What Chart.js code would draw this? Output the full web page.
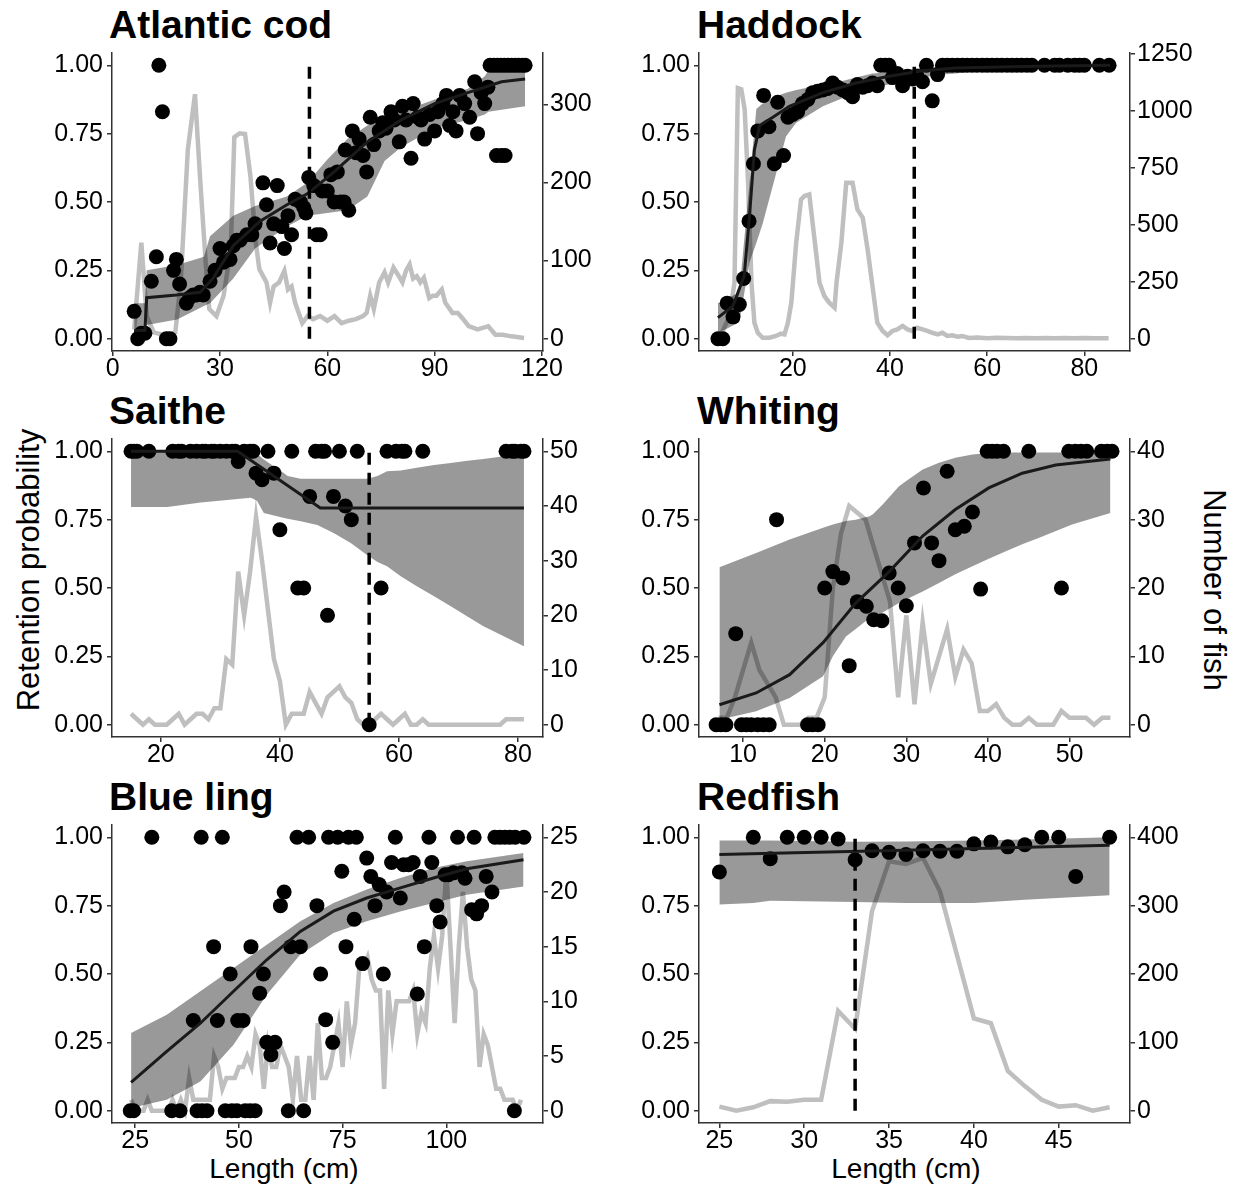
<!DOCTYPE html>
<html>
<head>
<meta charset="utf-8">
<script src="https://cdn.jsdelivr.net/npm/chart.js@4.4.1/dist/chart.umd.min.js"></script>
<style>
  body { margin: 0; background: #fff; width: 1241px; height: 1192px; position: relative; overflow: hidden;
         font-family: "Liberation Sans", Arial, sans-serif; }
  canvas { position: absolute; }
  .title { position: absolute; font-weight: bold; font-size: 39px; line-height: 1; color: #000; white-space: nowrap; }
  .axt { position: absolute; font-size: 28px; line-height: 1; color: #000; white-space: nowrap; }
  .axv { font-size: 31px; }
</style>
</head>
<body>
<div class="title" style="left:109px; top:5px">Atlantic cod</div>
<div class="title" style="left:697px; top:5px">Haddock</div>
<div class="title" style="left:109px; top:391px">Saithe</div>
<div class="title" style="left:697px; top:391px">Whiting</div>
<div class="title" style="left:109px; top:777px">Blue ling</div>
<div class="title" style="left:697px; top:777px">Redfish</div>

<div class="axt axv" style="left:28px; top:570px; transform:translate(-50%,-50%) rotate(-90deg)">Retention probability</div>
<div class="axt axv" style="left:1214px; top:590px; transform:translate(-50%,-50%) rotate(90deg)">Number of fish</div>
<div class="axt" style="left:284px; top:1155px; transform:translateX(-50%)">Length (cm)</div>
<div class="axt" style="left:906px; top:1155px; transform:translateX(-50%)">Length (cm)</div>

<canvas id="cod"></canvas>
<canvas id="had"></canvas>
<canvas id="sai"></canvas>
<canvas id="whi"></canvas>
<canvas id="bl"></canvas>
<canvas id="red"></canvas>

<script>
// ---------- Atlantic cod ----------
var codLen = [6,7,8,9,10.8,12.2,12.9,13.9,15,16,17,17.8,18.7,20.6,21.5,22.5,23.4,24.4,25.3,27.2,
  28.6,30,31,32.8,33.7,34.7,35.6,37.5,38.9,39.8,42,43,44,45,46,47.3,48,49,50,51,
  52.5,53.4,54,54.8,56.2,57,58,58.6,60,61,61.9,62.8,63.7,64.7,65,66,67,68,68.9,70,
  71,72,73,74.5,75.5,76.4,77.8,78.7,80.1,81,82,83.4,84,85.3,86.2,87.2,88.6,90,90.9,92.3,
  93.3,94.2,95.1,96,97,98.4,99.8,101.2,102,103,104,104.9,105.5,106.5,107.3,107.5,108.5,108.7,109.5,109.7,
  110.5,111.5,112.5,113.5,114.5,115.3];
var codRet = [0.10,0,0.02,0.02,0.21,0.30,1,0.83,0,0,0.25,0.29,0.20,0.13,0.15,0.16,0.16,0.17,0.16,0.21,
  0.25,0.33,0.28,0.29,0.34,0.36,0.36,0.38,0.38,0.42,0.57,0.49,0.35,0.42,0.56,0.41,0.33,0.45,0.38,0.51,
  0.50,0.48,0.46,0.59,0.56,0.38,0.38,0.54,0.54,0.60,0.50,0.61,0.50,0.50,0.69,0.47,0.76,0.68,0.73,0.67,
  0.61,0.81,0.71,0.76,0.79,0.77,0.83,0.80,0.72,0.85,0.80,0.66,0.86,0.81,0.80,0.73,0.82,0.76,0.83,0.86,
  0.89,0.78,0.83,0.76,0.89,0.86,0.81,0.94,0.75,0.90,0.86,0.92,1,1,0.67,1,1,0.67,1,0.67,
  1,1,1,1,1,1];
var codFitX = [6,9,9.5,17.8,24.4,28,33.7,41.2,48.7,54.4,61.9,71.2,80.6,90,99.3,108.7,115.3];
var codFit = [0.03,0.03,0.15,0.16,0.17,0.22,0.34,0.43,0.49,0.53,0.61,0.72,0.80,0.86,0.90,0.94,0.95];
var codBandX = [6,9,9.5,18,25.5,27.2,33.7,39.8,48.7,54.4,60,65.6,71.2,76,80.6,90,99.3,104,105,115.3];
var codBandHi = [0.13,0.13,0.25,0.27,0.30,0.375,0.45,0.485,0.52,0.57,0.655,0.73,0.78,0.81,0.83,0.875,0.914,0.96,0.98,0.985];
var codBandLo = [0.0,0.03,0.05,0.07,0.12,0.13,0.22,0.33,0.41,0.45,0.46,0.47,0.52,0.65,0.70,0.77,0.80,0.82,0.83,0.85];
var codCntX = [6,8,9.5,11.5,15,17.5,19,21,23,24.5,26,27,29,31,33,34,35.5,37,38.5,40,
  41,43,44,45,46.5,48,49,50,51,53,54.5,56,58,60,62,64,66,68,70,71,
  72,73,74.5,76,77,78.5,80,81,82,83,84,85,86,87,88.5,89.5,90.5,92,93,95,
  96.5,98,99.5,102,105,107,109,111.5,115];
var codCnt = [12,123,29,8,4,8,72,242,313,200,97,38,29,55,114,258,263,262,208,123,
  89,72,46,67,72,87,63,67,46,20,29,25,29,23,29,20,23,25,29,33,
  55,38,72,85,72,91,80,72,87,95,77,80,72,78,52,55,55,63,46,33,
  33,25,16,12,16,5,5,3,1];

// ---------- Haddock ----------
var hadLen = [4.6,5.6,6.5,7.7,9,9.9,11,11.9,12.8,14,15.1,16.2,16.9,18.1,19,20,21,22,23.1,24.1,
  25.1,26.2,27.2,28.2,29.2,30.3,31.3,32.3,33.3,34.4,35.4,36.4,37.4,38.1,39,39.8,40.5,41.5,42.6,43.6,
  44.6,45.6,46.7,47.5,48.7,49.8,
  50.8,51.8,52.8,53.9,54.9,55.9,56.9,57.9,59,60,61,62,63,64.1,65.1,66.1,67.1,68.2,69.2,
  71.8,73.9,74.9,76.6,78,79,80,83.1,85.1];
var hadRet = [0,0,0.13,0.08,0.125,0.22,0.43,0.64,0.76,0.89,0.775,0.64,0.865,0.67,0.81,0.82,0.83,0.86,0.875,0.90,
  0.905,0.91,0.915,0.935,0.92,0.91,0.90,0.885,0.93,0.92,0.925,0.935,0.925,1,1,1,0.955,0.97,0.925,0.96,
  0.95,0.96,0.94,1,0.87,0.966,
  1,1,1,1,1,1,1,1,1,1,1,1,1,1,1,1,1,1,1,
  1,1,1,1,1,1,1,1,1];
var hadFitX = [4.6,7.7,10,11.1,12.1,13.2,15.9,19.3,26.2,33,39.8,46.7,53.5,67,85.3];
var hadFit = [0.077,0.12,0.23,0.45,0.69,0.78,0.81,0.85,0.90,0.935,0.96,0.98,0.99,0.996,1.0];
var hadBandX = [4.6,9,11.1,12.5,13.8,16.5,18.6,20.7,26.2,29.6,33,36.4,39.8,43.3,46.7,50,53.5,60.4,67,85.3];
var hadBandHi = [0.13,0.17,0.57,0.84,0.86,0.887,0.90,0.91,0.93,0.94,0.955,0.97,0.975,0.985,0.99,0.994,0.996,0.999,1.0,1.0];
var hadBandLo = [0.02,0.06,0.28,0.35,0.42,0.60,0.74,0.79,0.85,0.875,0.90,0.92,0.93,0.945,0.955,0.965,0.97,0.985,0.99,0.996];
var hadCntX = [4.6,5.6,7,8,8.7,9.4,10.1,10.8,11.5,12.1,12.8,13.8,15.2,16.5,17.6,18.3,19,19.7,20.7,21.7,
  22.4,23.4,24.4,25.5,26.5,27.5,28.6,29,30,31,32.3,33.3,34.4,35.4,36.4,37.4,38.5,39.5,40.5,41.5,
  42.6,43.6,44.6,45.6,46.7,47.7,48.7,49.8,50.8,51.8,52.8,53.9,54.9,56.2,58,60,62,64,66,68,
  70,72,74,76,78,80,82,85];
var hadCnt = [0,34,100,246,1100,1095,1006,684,246,70,26,4,4,12,22,19,70,158,421,611,
  626,633,450,246,187,158,136,246,421,684,684,567,531,392,231,70,34,15,34,41,
  56,41,34,48,41,34,26,19,26,12,15,9,12,3,5,2,4,3,2,3,
  2,3,2,3,2,3,2,2];

// ---------- Saithe ----------
var saiLen = [15,15.5,16,18,22,23,23.5,25,26,27,27.5,28.5,29,30,31,32,32.5,33,34,35,
  35.5,36,37,38,39,40,42,43,44,45,46,47,47.5,48,49,50,51,52,53,55,
  57,58,59.5,60.5,61,64,78,79,79.5,80.5,81];
var saiRet = [1,1,1,1,1,1,1,1,1,1,1,1,1,1,1,1,1,0.963,1,1,
  1,0.92,0.896,1,0.92,0.713,1,0.5,0.5,0.835,1,1,1,0.4,0.835,1,0.80,0.75,1,0,
  0.5,1,1,1,1,1,1,1,1,1,1];
var saiFitX = [15,32.9,46.8,81];
var saiFit = [1,1,0.793,0.793];
var saiBandX = [15,21.1,26.7,35.1,35.7,36.2,37.3,40.7,41.3,43.5,46.3,49.1,51.9,54.7,56.4,58,60.3,63,65.9,68.7,71.5,74.2,77,81];
var saiBandHi = [1,1,1,1,1,0.99,0.97,0.92,0.91,0.90,0.90,0.90,0.90,0.90,0.91,0.927,0.93,0.94,0.95,0.957,0.965,0.972,0.98,0.988];
var saiBandLo = [0.796,0.796,0.813,0.83,0.825,0.817,0.774,0.756,0.753,0.744,0.73,0.70,0.665,0.62,0.595,0.58,0.543,0.506,0.47,0.433,0.396,0.36,0.33,0.287];
var saiCntX = [15,16,17,18,19,20,21,22,23,24,25,26,27,28,29,30,31,32,33,34,
  35,36,37,38,39,40,41,42,43,44,45,46,47,48,49,50,51,52,53,54,
  55,56,57,58,59,60,61,62,63,64,65,66,67,68,69,70,71,72,73,74,
  75,76,77,78,79,80,81];
var saiCnt = [2,1,0,1,0,0,0,1,2,0,1,2,2,1,3,3,12,11,28,20,
  28,38,30,21,12,8,0,2,2,2,6,4,2,5,6,7,5,4,1,0,
  0,1,2,1,0,1,2,0,0,1,0,0,0,0,0,0,0,0,0,0,
  0,0,0,1,1,1,1];

// ---------- Whiting ----------
var whiLen = [6.7,7.3,7.9,9.1,9.8,10.4,11,11.8,12.5,13.2,14.1,17.9,18.5,19.2,20,21,22.2,23,24,25.1,
  26,27,27.9,29,30,31,32.1,33.1,34,35,36,37.1,38.1,39.1,39.9,40.5,41.1,41.9,45,49,
  49.9,50.7,51.4,52.1,53.9,54.6,55.2];
var whiRet = [0,0,0,0.333,0,0,0,0,0,0,0.75,0,0,0,0.5,0.56,0.537,0.216,0.45,0.433,
  0.384,0.38,0.555,0.5,0.435,0.665,0.866,0.665,0.6,0.927,0.713,0.726,0.778,0.496,1,1,1,1,1,0.5,
  1,1,1,1,1,1,1];
var whiFitX = [7.1,11.6,15.7,19.8,23.8,27.9,32,36,40.1,44.2,48.3,55];
var whiFit = [0.073,0.116,0.183,0.30,0.445,0.56,0.69,0.787,0.866,0.92,0.95,0.972];
var whiBandX = [7.1,11.6,15.7,19.8,21,22.6,23.8,25.5,25.9,27.1,29.1,29.9,32,34,36,38.1,40.1,42.2,44.2,46.2,50.3,55];
var whiBandHi = [0.576,0.628,0.677,0.72,0.732,0.745,0.75,0.762,0.77,0.805,0.872,0.89,0.933,0.958,0.976,0.988,0.994,0.996,0.996,0.996,0.996,0.996];
var whiBandLo = [0.018,0.049,0.098,0.177,0.25,0.323,0.35,0.39,0.396,0.41,0.445,0.457,0.487,0.518,0.55,0.58,0.607,0.634,0.66,0.683,0.732,0.774];
var whiCntX = [7,8,9,10,11,12,13,14,15,16,17,18,19,20,21,22,23,24,25,26,
  27,28,29,30,31,32,33,34,35,36,37,38,39,40,41,42,43,44,45,46,
  47,48,49,50,51,52,53,54,55];
var whiCnt = [1,1,4,8,12,8,6,4,0,0,0,1,1,4,20,28,32,31,30,26,
  22,18,4,16,3,15,6,10,14,7,11,9,2,2,3,1,0,0,1,0,
  0,0,2,1,1,1,0,1,1];

// ---------- Blue ling ----------
var blLen = [29,40.9,46,64,66.8,71.6,73.8,76.4,78.3,87.7,95.8,102.7,106.7,111.7,112.9,114.1,115.3,116.6,118.7,
  23.8,24.6,33.8,35.8,39.9,41.1,42.3,46.7,48.3,49.5,51.5,52.7,53.9,61.9,65.6,116.4,
  39,43.9,44.8,47.9,49.7,51,52.9,55,55.9,56.7,57.7,58.7,60,60.9,62.5,64.8,68.8,69.7,70.9,72.6,
  74.8,75.8,77.8,79.8,80.8,81.8,82.8,83.8,84.8,85.6,86.8,88.9,89.7,90.9,92,93,93.7,94.7,96.5,97.7,
  98.5,99.7,100.5,101.7,103.7,104.5,106.1,107.3,108.5,109.6,111];
var blRet = [1,1,1,1,1,1,1,1,1,1,1,1,1,1,1,1,1,1,1,
  0,0,0,0,0,0,0,0,0,0,0,0,0,0,0,0,
  0.33,0.6,0.33,0.5,0.33,0.33,0.6,0.43,0.5,0.25,0.205,0.25,0.75,0.8,0.6,0.6,0.75,0.5,0.333,0.25,
  0.876,0.6,0.7,0.538,0.924,0.857,0.75,0.827,0.5,0.8,0.908,0.778,0.9,0.9,0.908,0.427,0.857,0.6,0.908,0.75,
  0.69,0.863,0.863,0.87,0.87,0.85,0.735,0.72,0.75,0.857,0.8];
var blFitX = [24,32.6,40.7,48.7,56.7,64.8,72.8,80.8,88.9,96.9,104.9,118.6];
var blFit = [0.104,0.217,0.32,0.437,0.552,0.656,0.73,0.778,0.815,0.851,0.885,0.918];
var blBandX = [24,32.6,40.7,48.7,56.7,64.8,72.8,80.8,88.9,96.9,104.9,118.6];
var blBandHi = [0.284,0.351,0.437,0.522,0.607,0.693,0.76,0.809,0.851,0.888,0.912,0.943];
var blBandLo = [0.01,0.04,0.107,0.241,0.424,0.571,0.65,0.693,0.729,0.76,0.79,0.82];
var blCntX = [24,25,26,27,28,29,30,31,32,33,34,35,36,37,38,39,40,41,42,43,
  44,45,46,47,48,49,50,51,52,53,54,55,56,57,58,59,60,61,62,63,
  64,65,66,67,68,69,70,71,72,73,74,75,76,77,78,79,80,81,82,83,
  84,85,86,87,88,89,90,91,92,93,94,95,96,97,98,99,100,101,102,103,
  104,105,106,107,108,109,110,111,112,113,114,115,116,117,118];
var blCnt = [1,0,0,0,1,0,0,0,0,0,1,0,1,0,3,1,1,1,1,1,
  5,4,2,3,3,3,4,4,5,4,7,6,2,6,4,4,6,5,4,1,
  5,1,1,5,1,8,3,3,4,6,8,4,10,6,8,13,13,14,12,11,
  11,2,11,7,10,10,10,10,11,7,9,8,13,16,13,16,22,15,8,15,
  20,15,12,11,4,7,6,4,2,2,1,1,1,0,1];

// ---------- Redfish ----------
var redLen = [25,27,28,29,30,31,32,33,34,35,36,37,38,39,40,41,42,43,44,45,46,48];
var redRet = [0.873,1,0.922,1,1,1,0.994,0.918,0.951,0.945,0.937,0.951,0.949,0.949,0.976,0.983,0.965,0.973,1,1,0.857,1];
var redFitX = [25,36.5,48];
var redFit = [0.937,0.954,0.971];
var redBandX = [25,27,28,33,36,40,43,48];
var redBandHi = [0.988,0.988,0.988,0.984,0.985,0.988,0.992,1.0];
var redBandLo = [0.754,0.76,0.768,0.763,0.76,0.76,0.772,0.788];
var redCntX = [25,26,27,28,29,30,31,32,33,34,35,36,37,38,39,40,41,42,43,44,45,46,47,48];
var redCnt = [6,0,5,14,13,16,16,146,120,292,365,361,370,321,228,135,128,58,36,16,6,8,0,5];

// ---------- axes ----------
var probTicks = [0, 0.25, 0.5, 0.75, 1];
var codXTicks = [0, 30, 60, 90, 120], codRTicks = [0, 100, 200, 300];
var hadXTicks = [20, 40, 60, 80], hadRTicks = [0, 250, 500, 750, 1000, 1250];
var saiXTicks = [20, 40, 60, 80], saiRTicks = [0, 10, 20, 30, 40, 50];
var whiXTicks = [10, 20, 30, 40, 50], whiRTicks = [0, 10, 20, 30, 40];
var blXTicks = [25, 50, 75, 100], blRTicks = [0, 5, 10, 15, 20, 25];
var redXTicks = [25, 30, 35, 40, 45], redRTicks = [0, 100, 200, 300, 400];

var FONT = '"Liberation Sans", Arial, sans-serif';
var PLOT_W = 431, PLOT_H = 298, LW = 80, RW = 80, PAD_T = 20, BH = 48;
var YMIN = -0.045, YMAX = 1.045;

function pts(xs, ys) {
    return xs.map(function (x, i) { return { x: x, y: ys[i] }; });
}

function makePanel(id, left, top, p) {
    var cv = document.getElementById(id);
    cv.width = LW + PLOT_W + RW;
    cv.height = PAD_T + PLOT_H + BH;
    cv.style.left = Math.round(left - LW) + 'px';
    cv.style.top = Math.round(top - PAD_T) + 'px';

    var grid = { display: true, drawOnChartArea: false, drawTicks: true, tickLength: 5, color: '#333', lineWidth: 1.5 };
    var border = { display: true, color: '#333', width: 1.5 };
    var tickFont = { size: 25, family: FONT };

    new Chart(cv, {
        type: 'scatter',
        data: {
            datasets: [
                // fitted curve
                { data: pts(p.fitX, p.fit), showLine: true, borderColor: '#1a1a1a', borderWidth: 3, pointRadius: 0, order: 1 },
                // minimum landing size
                { data: p.cut == null ? [] : [{ x: p.cut, y: 0 }, { x: p.cut, y: 1 }], showLine: true,
                  borderColor: '#000', borderWidth: 3.5, borderDash: [12, 8], pointRadius: 0, order: 0 },
                // observed retention
                { data: pts(p.len, p.ret), pointRadius: 7.5, pointBackgroundColor: '#000', pointBorderWidth: 0, order: 2 },
                // confidence band
                { data: pts(p.bandX, p.hi), showLine: true, borderColor: 'rgba(0,0,0,0)', borderWidth: 0, pointRadius: 0, order: 3 },
                { data: pts(p.bandX, p.lo), showLine: true, borderColor: 'rgba(0,0,0,0)', borderWidth: 0, pointRadius: 0,
                  fill: '-1', backgroundColor: 'rgba(0,0,0,0.4)', order: 3 },
                // length frequency
                { data: pts(p.cntX, p.cnt), showLine: true, borderColor: '#bfbfbf', borderWidth: 4.5, pointRadius: 0,
                  yAxisID: 'yR', order: 4 }
            ]
        },
        options: {
            responsive: false,
            animation: false,
            events: [],
            layout: { padding: { top: PAD_T, left: 0, right: 0, bottom: 0 } },
            plugins: { legend: { display: false }, tooltip: { enabled: false } },
            scales: {
                x: {
                    type: 'linear', min: p.xMin, max: p.xMax,
                    afterBuildTicks: function (s) { s.ticks = p.xTicks.map(function (v) { return { value: v }; }); },
                    afterFit: function (s) { s.height = BH; s.paddingLeft = 0; s.paddingRight = 0; },
                    grid: grid, border: border,
                    ticks: { font: tickFont, color: '#000', padding: -2, autoSkip: false, maxRotation: 0,
                             callback: function (v) { return String(v); } }
                },
                y: {
                    type: 'linear', position: 'left', min: YMIN, max: YMAX,
                    afterBuildTicks: function (s) { s.ticks = probTicks.map(function (v) { return { value: v }; }); },
                    afterFit: function (s) { s.width = LW; s.paddingTop = 0; s.paddingBottom = 0; },
                    grid: grid, border: border,
                    ticks: { font: tickFont, color: '#000', padding: 4, autoSkip: false,
                             callback: function (v) { return v.toFixed(2); } }
                },
                yR: {
                    type: 'linear', position: 'right', min: YMIN * p.k, max: YMAX * p.k,
                    afterBuildTicks: function (s) { s.ticks = p.rTicks.map(function (v) { return { value: v }; }); },
                    afterFit: function (s) { s.width = RW; s.paddingTop = 0; s.paddingBottom = 0; },
                    grid: grid, border: border,
                    ticks: { font: tickFont, color: '#000', padding: 2, autoSkip: false,
                             callback: function (v) { return String(v); } }
                }
            }
        }
    });
}

makePanel('cod', 112, 53.4, { len: codLen, ret: codRet, fitX: codFitX, fit: codFit, bandX: codBandX, hi: codBandHi, lo: codBandLo,
    cntX: codCntX, cnt: codCnt, cut: 55, k: 350, xMin: -0.2, xMax: 120.3, xTicks: codXTicks, rTicks: codRTicks });
makePanel('had', 699.3, 53.4, { len: hadLen, ret: hadRet, fitX: hadFitX, fit: hadFit, bandX: hadBandX, hi: hadBandHi, lo: hadBandLo,
    cntX: hadCntX, cnt: hadCnt, cut: 45, k: 1200, xMin: 0.7, xMax: 89.4, xTicks: hadXTicks, rTicks: hadRTicks });
makePanel('sai', 111.7, 439.4, { len: saiLen, ret: saiRet, fitX: saiFitX, fit: saiFit, bandX: saiBandX, hi: saiBandHi, lo: saiBandLo,
    cntX: saiCntX, cnt: saiCnt, cut: 55, k: 50, xMin: 11.8, xMax: 84.2, xTicks: saiXTicks, rTicks: saiRTicks });
makePanel('whi', 699.3, 439.4, { len: whiLen, ret: whiRet, fitX: whiFitX, fit: whiFit, bandX: whiBandX, hi: whiBandHi, lo: whiBandLo,
    cntX: whiCntX, cnt: whiCnt, cut: null, k: 40, xMin: 4.6, xMax: 57.4, xTicks: whiXTicks, rTicks: whiRTicks });
makePanel('bl', 111.7, 825.4, { len: blLen, ret: blRet, fitX: blFitX, fit: blFit, bandX: blBandX, hi: blBandHi, lo: blBandLo,
    cntX: blCntX, cnt: blCnt, cut: null, k: 25, xMin: 19.4, xMax: 123.3, xTicks: blXTicks, rTicks: blRTicks });
makePanel('red', 699.3, 825.4, { len: redLen, ret: redRet, fitX: redFitX, fit: redFit, bandX: redBandX, hi: redBandHi, lo: redBandLo,
    cntX: redCntX, cnt: redCnt, cut: 33, k: 400, xMin: 23.8, xMax: 49.2, xTicks: redXTicks, rTicks: redRTicks });
</script>
</body>
</html>
